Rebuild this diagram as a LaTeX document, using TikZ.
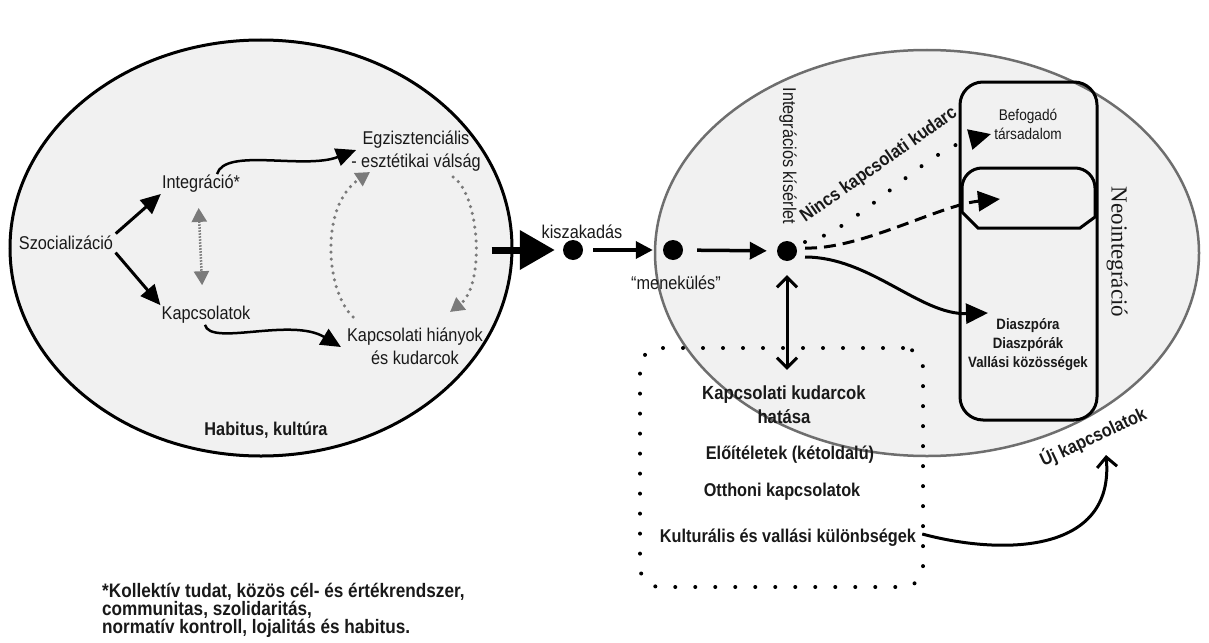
\documentclass[tikz,border=0pt]{standalone}
\usepackage{fontspec}
\setmainfont{Liberation Sans}[FakeStretch=0.88]
\newfontfamily\neofont{Liberation Serif}
\usetikzlibrary{arrows.meta,shapes.geometric,calc}
\definecolor{ellfill}{HTML}{F1F1F1}
\definecolor{dotgray}{HTML}{7A7A7A}
\definecolor{rimgray}{HTML}{6E6E6E}

\begin{document}
\begin{tikzpicture}[x=1pt,y=-1pt,
    lab/.style={inner sep=1pt,text=black!90,align=center,font=\fontsize{18.5}{23}\selectfont},
    blab/.style={lab,font=\fontsize{18.5}{23}\selectfont\bfseries},
    blob/.style={circle,fill=black,minimum size=20pt,inner sep=0pt},
    arr/.style={line width=3pt,-{Triangle[length=20pt,width=18pt]}},
    grayarr/.style={dotgray,line width=3.5pt,line cap=round,dash pattern=on 0pt off 7pt,-{Triangle[length=14pt,width=15pt]}},
    bigdots/.style={line width=4pt,line cap=round,dash pattern=on 0pt off 20pt},
    barb/.tip={Straight Barb[length=10pt,width=20pt]}]
  \useasboundingbox (0,0) rectangle (1209,642);

  \node[ellipse,draw,line width=3pt,fill=ellfill,minimum width=502pt,minimum height=416pt,inner sep=0pt] (habell) at (261,248) {};
  \node[ellipse,draw=rimgray,line width=2.5pt,fill=ellfill,minimum width=544pt,minimum height=406pt,inner sep=0pt] (neoell) at (927,253) {};

  \node[lab] (szoc) at (66,243) {Szocializáció};
  \node[lab] (integ) at (201,184) {Integráció*};
  \node[lab] (kapcs) at (206,315) {Kapcsolatok};
  \node[lab] (egz) at (416,151) {Egzisztenciális\\- esztétikai válság};
  \node[lab] (hiany) at (415,346) {Kapcsolati hiányok\\és kudarcok};
  \node[blab] (habit) at (266,430) {Habitus, kultúra};

  \draw[arr,shorten <=2pt] (szoc.north east) -- (integ.south west);
  \draw[arr,shorten <=2pt] (szoc.south east) -- (kapcs.north west);
  \draw[dotgray,line width=2.5pt,dash pattern=on 1.5pt off 1.5pt,{Triangle[length=14pt,width=15pt]}-{Triangle[length=14pt,width=15pt]},shorten <=14pt,shorten >=20pt] ([xshift=-3pt]integ.south) -- ([xshift=-3pt]kapcs.north);
  \draw[arr,line width=2.5pt] ([xshift=16pt]integ.north) .. controls +(8,-27) and +(-52,20) .. ($(egz.west)+(6,-1)$);
  \draw[arr,line width=2.5pt] ([xshift=-1pt]kapcs.south) .. controls +(5,22) and +(-50,-30) .. ($(hiany.west)+(-5,1)$);
  \draw[grayarr] ($(hiany)+(-62,-29)$) .. controls +(-28,-27) and +(-50,33) .. ($(egz)+(-46,21)$);
  \draw[grayarr] ($(egz)+(37,26)$) .. controls +(27,18) and +(35,-27) .. ($(hiany)+(35,-34)$);

  \node[blob] (d1) at (573,250) {};
  \node[blob] (d2) at (673,250) {};
  \node[blob] (d3) at (787,251) {};
  \node[lab] (kisz) at (582,232) {kiszakadás};
  \node[lab] (menek) at (676,283) {“menekülés”};
  \node[lab,rotate=-90] (kiserlet) at (788,156) {Integrációs kísérlet};

  \draw[line width=7pt,-{Triangle[length=35pt,width=38pt]},shorten >=8pt] ($(habell.east)+(-22,2)$) -- (d1);
  \draw[line width=3.5pt,-{Triangle[length=17pt,width=17pt]},shorten <=10pt,shorten >=10pt] (d1) -- (d2);
  \draw[line width=3.5pt,-{Triangle[length=17pt,width=17pt]},shorten <=14pt,shorten >=10pt] (d2) -- (d3);

  % neointegracio box
  \draw[line width=3pt] (978,228) -- (962,212) -- (962,188) arc[start angle=180,end angle=270,radius=20] -- (1075,168) arc[start angle=270,end angle=360,radius=20] -- (1095,217) -- (1080,228) -- cycle;
  \node[draw,line width=3pt,rounded corners=23pt,minimum width=137pt,minimum height=338pt,inner sep=0pt] (neobox) at (1028.5,251) {};
  \node[lab,font=\fontsize{15.5}{19}\selectfont] (befog) at (1028,124) {Befogadó\\társadalom};
  \node[blab,font=\fontsize{15}{19}\selectfont\bfseries] (diasp) at (1028,345) {Diaszpóra\\Diaszpórák\\Vallási közösségek};
  \node[lab,rotate=-90,font=\neofont\fontsize{23}{26}\selectfont] (neo) at (1117,252) {Neointegráció};
  \coordinate (fwd) at (1000,199);

  \node[blab,rotate=35] (nincs) at (879,165) {Nincs kapcsolati kudarc};
  \draw[bigdots,-{Triangle[length=22pt,width=20pt]}] ($(d3)+(18,-9)$) .. controls (852,234) and (922,152) .. ($(befog.west)+(-2,10)$);
  \draw[line width=3pt,dash pattern=on 12pt off 7pt,-{Triangle[length=22pt,width=20pt]}] ($(d3)+(18,-3)$) .. controls (860,250) and (940,205) .. (fwd);
  \draw[line width=3pt,-{Triangle[length=22pt,width=20pt]}] ($(d3)+(18,6)$) .. controls (870,257) and (920,315) .. ($(diasp)+(-40,-32)$);

  \node[bigdots,draw,rounded corners=20pt,minimum width=283pt,minimum height=239pt,inner sep=0pt] (kudbox) at (781.5,467.5) {};
  \node[blab,font=\fontsize{19}{24}\selectfont\bfseries] (kud) at (784,405) {Kapcsolati kudarcok\\hatása};
  \node[blab] (eloit) at (790,455) {Előítéletek (kétoldalú)};
  \node[blab] (otth) at (782,492) {Otthoni kapcsolatok};
  \node[blab] (kult) at (788,538) {Kulturális és vallási különbségek};
  \draw[line width=3pt,barb-barb,shorten <=14pt,shorten >=15pt] (d3) -- (kud.north -| d3);

  \node[blab,rotate=25] (uj) at (1093,437) {Új kapcsolatok};
  \draw[line width=3pt,-barb] ($(kult.east)+(5,-4)$) .. controls (1000,555) and (1115,555) .. ($(uj)+(13,18)$);

  \node[blab,anchor=west,align=left,font=\fontsize{19.5}{18}\selectfont\bfseries] (note) at (101,610) {*Kollektív tudat, közös cél- és értékrendszer,\\communitas, szolidaritás,\\normatív kontroll, lojalitás és habitus.};
\end{tikzpicture}
\end{document}
